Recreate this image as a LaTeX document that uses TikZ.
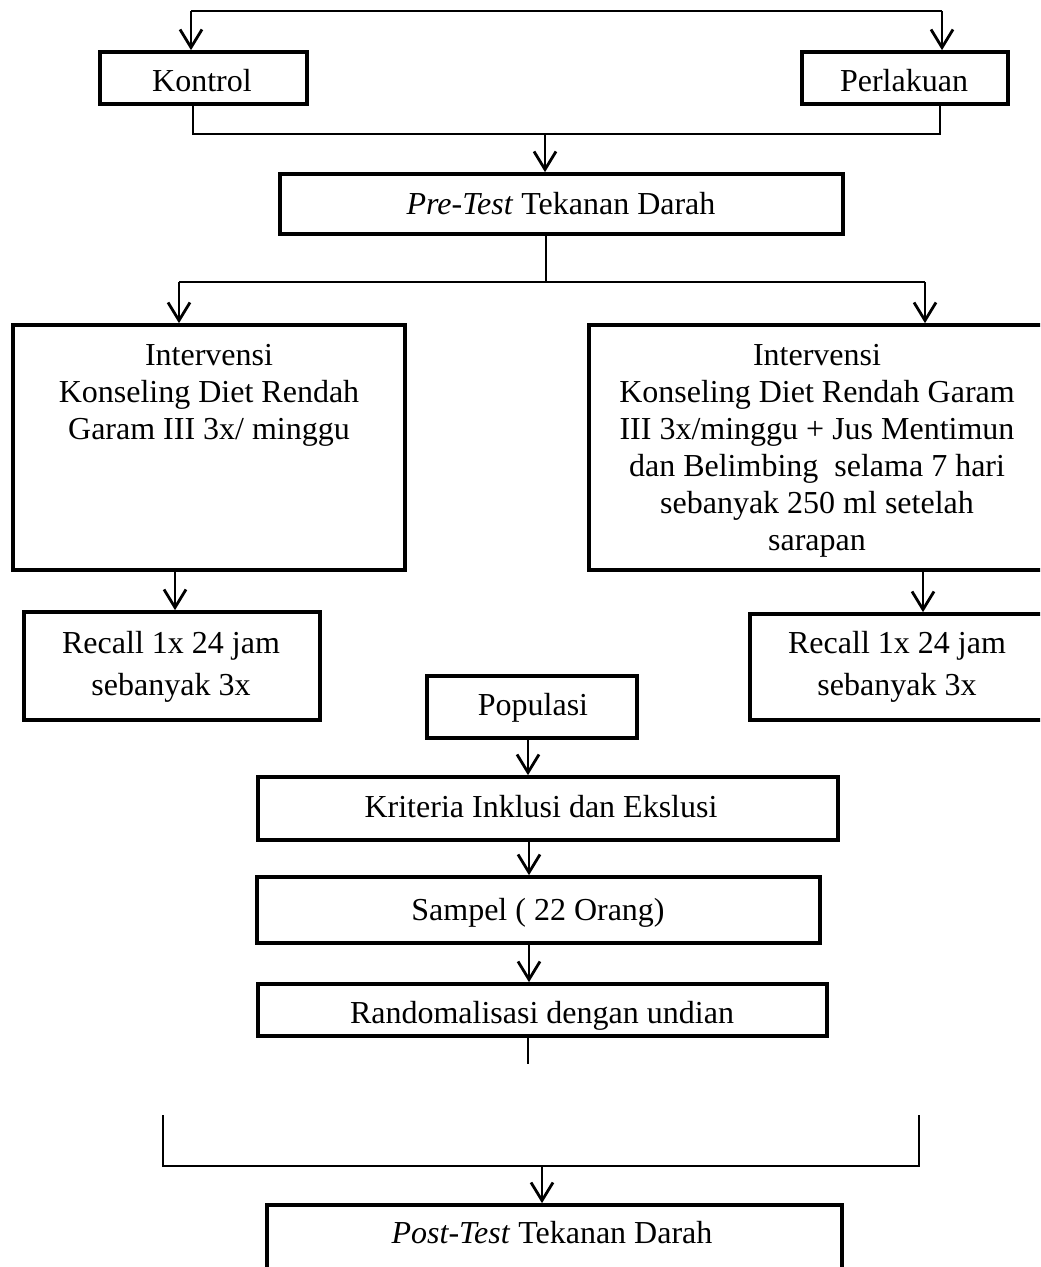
\documentclass[tikz,border=0pt]{standalone}
\usepackage{fontspec}
\setmainfont{Liberation Serif}
\usetikzlibrary{arrows.meta,fit}
\begin{document}
\begin{tikzpicture}[x=0.5pt,y=-0.5pt,
  box/.style={draw, line width=1.85pt, inner sep=0pt},
  txt/.style={font=\fontsize{16pt}{18.5pt}\selectfont, inner sep=0pt, anchor=base},
  thinline/.style={line width=0.7pt},
  arr/.style={line width=1.2pt, -{Straight Barb[length=9pt,width=11pt,line width=1.4pt]}}]
\useasboundingbox (0,0) rectangle (1040,1267);
\clip (0,0) rectangle (1040,1267);

% boxes
\node[box, fit={(100,52) (307,104)}] (kon) {};
\node[box, fit={(802,52) (1008,104)}] (per) {};
\node[box, fit={(280,174) (843,234)}] (pre) {};
\node[box, fit={(13,325) (405,570)}] (intl) {};
\node[box, fit={(589,325) (1070,570)}] (intr) {};
\node[box, fit={(24,612) (320,720)}] (recl) {};
\node[box, fit={(750,614) (1070,720)}] (recr) {};
\node[box, fit={(427,676) (637,738)}] (pop) {};
\node[box, fit={(258,777) (838,840)}] (krit) {};
\node[box, fit={(257,877) (820,943)}] (samp) {};
\node[box, fit={(258,984) (827,1036)}] (rand) {};
\node[box, fit={(267,1205) (842,1300)}] (post) {};

% texts
\node[txt] (konT) at (202,92) {Kontrol};
\node[txt] (perT) at (904,92) {Perlakuan};
\node[txt] (preT) at (561,215) {\textit{Pre-Test} Tekanan Darah};
\node[txt] (il1) at (209,365) {Intervensi};
\node[txt] (il2) at (209,402) {Konseling Diet Rendah};
\node[txt] (il3) at (209,439) {Garam III 3x/ minggu};
\node[txt] (ir1) at (817,365) {Intervensi};
\node[txt] (ir2) at (817,402) {Konseling Diet Rendah Garam};
\node[txt] (ir3) at (817,439) {III 3x/minggu + Jus Mentimun};
\node[txt] (ir4) at (817,476) {dan Belimbing\ \ selama 7 hari};
\node[txt] (ir5) at (817,513) {sebanyak 250 ml setelah};
\node[txt] (ir6) at (817,550) {sarapan};
\node[txt] (rl1) at (171,653) {Recall 1x 24 jam};
\node[txt] (rl2) at (171,695) {sebanyak 3x};
\node[txt] (rr1) at (897,653) {Recall 1x 24 jam};
\node[txt] (rr2) at (897,695) {sebanyak 3x};
\node[txt] (popT) at (533,715) {Populasi};
\node[txt] (kritT) at (541,817) {Kriteria Inklusi dan Ekslusi};
\node[txt] (sampT) at (538,920) {Sampel ( 22 Orang)};
\node[txt] (randT) at (542,1023) {Randomalisasi dengan undian};
\node[txt] (postT) at (552,1243) {\textit{Post-Test} Tekanan Darah};

% coordinates
\coordinate (t1) at (191,11);
\coordinate (t2) at (942,11);
\coordinate (j1) at (545,134);
\coordinate (jl) at (193,134);
\coordinate (jr) at (940,134);
\coordinate (p1) at (546,282);
\coordinate (pl) at (179,282);
\coordinate (pr) at (925,282);
\coordinate (r1) at (528,1064);
\coordinate (bl) at (163,1115);
\coordinate (br) at (919,1115);
\coordinate (bj) at (542,1166);

% connectors
\draw[thinline] (t1) -- (t2);
\draw[arr] (t1) -- (t1 |- kon.north);
\draw[arr] (t2) -- (t2 |- per.north);
\draw[thinline] (jl |- kon.south) -- (jl) -- (jr) -- (jr |- per.south);
\draw[arr] (j1) -- (j1 |- pre.north);
\draw[thinline] (p1 |- pre.south) -- (p1);
\draw[thinline] (pl) -- (pr);
\draw[arr] (pl) -- (pl |- intl.north);
\draw[arr] (pr) -- (pr |- intr.north);
\draw[arr] (175,0 |- intl.south) -- (175,0 |- recl.north);
\draw[arr] (923,0 |- intr.south) -- (923,0 |- recr.north);
\draw[arr] (528,0 |- pop.south) -- (528,0 |- krit.north);
\draw[arr] (529,0 |- krit.south) -- (529,0 |- samp.north);
\draw[arr] (529,0 |- samp.south) -- (529,0 |- rand.north);
\draw[thinline] (r1 |- rand.south) -- (r1);
\draw[thinline] (bl) -- (bl |- bj) -- (br |- bj) -- (br);
\draw[arr] (bj) -- (bj |- post.north);
\end{tikzpicture}
\end{document}
